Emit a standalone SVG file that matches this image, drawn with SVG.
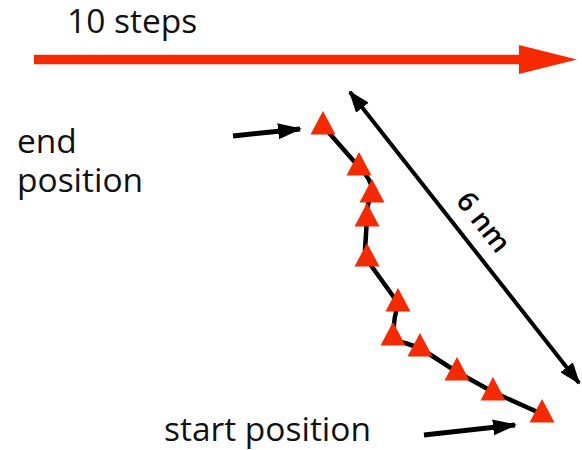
<svg xmlns="http://www.w3.org/2000/svg" width="582" height="450" viewBox="0 0 582 450">
  <style>
    .label { font-family: "Open Sans", "Noto Sans", "Liberation Sans", sans-serif; font-size: 33.5px; fill: #111; }
    .dim { font-family: "Open Sans", "Noto Sans", "Liberation Sans", sans-serif; font-size: 28px; font-weight: 600; fill: #000; }
    .pointer { stroke: #000; stroke-width: 5; fill: none; }
    .track { stroke: #000; stroke-width: 4.5; fill: none; stroke-linejoin: round; stroke-linecap: round; }
    .step { fill: #f52a00; }
  </style>
  <defs>
    <!-- one motor step, positioned by its apex -->
    <path id="tri" d="M0,0 L12.5,23.5 L-12.5,23.5 Z"/>
    <marker id="blackHead" markerUnits="userSpaceOnUse" viewBox="0 0 22 16" refX="20" refY="8" markerWidth="22" markerHeight="16" orient="auto-start-reverse">
      <path d="M0,0 L22,8 L0,16 Z" fill="#000"/>
    </marker>
    <marker id="ptrHead" markerUnits="userSpaceOnUse" viewBox="0 0 24 16" refX="22" refY="8" markerWidth="24" markerHeight="16" orient="auto">
      <path d="M0,0 L24,8 L0,16 Z" fill="#000"/>
    </marker>
  </defs>

  <!-- time axis -->
  <g id="axis">
    <text class="label" x="67" y="33">10 steps</text>
    <line x1="34" y1="59.5" x2="522" y2="59.5" stroke="#f52a00" stroke-width="9.5"/>
    <polygon points="519,45 577,59.5 519,74" fill="#f52a00"/>
  </g>

  <!-- path of the walker and distance scale -->
  <g id="connectors">
    <path class="track" d="M323,126 L359,167 Q374,182 372,194 Q366,206 367,218 L365,250 Q366,258 370,264 L398,303 Q394,318 393,332 Q395,342 405,343 L420,348 L457,372 L493,392 L542,414"/>
    <line x1="350" y1="92" x2="579" y2="383" stroke="#000" stroke-width="4" marker-start="url(#blackHead)" marker-end="url(#blackHead)"/>
    <line class="pointer" x1="233" y1="136" x2="300" y2="129" marker-end="url(#ptrHead)"/>
    <line class="pointer" x1="424" y1="435" x2="515" y2="425" marker-end="url(#ptrHead)"/>
  </g>

  <g id="scale-label">
    <text class="dim" transform="translate(476,228) rotate(51.8)" text-anchor="middle">6 nm</text>
  </g>

  <!-- positions, end to start -->
  <g id="steps" class="step">
    <use href="#tri" x="323" y="111"/>
    <use href="#tri" x="359" y="152"/>
    <use href="#tri" x="372" y="179"/>
    <use href="#tri" x="367" y="203"/>
    <use href="#tri" x="367" y="243"/>
    <use href="#tri" x="398" y="288"/>
    <use href="#tri" x="393" y="322"/>
    <use href="#tri" x="420" y="333"/>
    <use href="#tri" x="457" y="357"/>
    <use href="#tri" x="493" y="377"/>
    <use href="#tri" x="542" y="399"/>
  </g>

  <g id="end-label">
    <text class="label" x="17" y="153">end</text>
    <text class="label" x="17" y="192">position</text>
  </g>
  <g id="start-label">
    <text class="label" x="164" y="441">start position</text>
  </g>
</svg>
